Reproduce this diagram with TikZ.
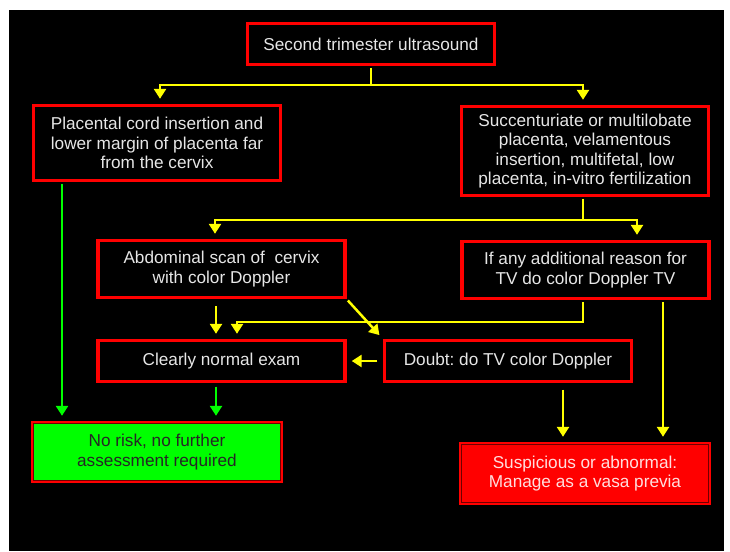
\documentclass[tikz,border=0pt]{standalone}
\usepackage{fontspec}
\setmainfont{Liberation Sans}
\usepackage{xcolor}
\usepackage{tikz}
\usetikzlibrary{arrows.meta, calc}
\definecolor{boxred}{RGB}{255,0,0}
\definecolor{flowyellow}{RGB}{255,255,0}
\definecolor{flowgreen}{RGB}{0,255,0}
\definecolor{textgray}{RGB}{230,230,230}
\definecolor{textpink}{RGB}{255,222,222}
\definecolor{edgedark}{RGB}{110,0,0}
\frenchspacing

\begin{document}
\begin{tikzpicture}[
    x=1pt, y=-1pt,
    box/.style={rectangle, draw=boxred, line width=3.4pt, fill=black, text=textgray, minimum width=247pt, inner sep=0pt, align=center, font=\fontsize{17.2}{19.6}\selectfont},
    safebox/.style={box, fill=flowgreen, text=black!85},
    alertbox/.style={box, fill=boxred, text=textpink},
    inset/.style={draw=edgedark, line width=1.3pt},
    arrow/.style={-{Triangle[length=10pt,width=12pt]}, line width=2.5pt, shorten >=5pt},
    yarrow/.style={arrow, flowyellow},
    garrow/.style={arrow, flowgreen},
    yline/.style={flowyellow, line width=2.5pt},
]

\useasboundingbox (0,0) rectangle (730,551);
\fill[black] (9,10) rectangle (724,551);

% Start
\node[box, minimum height=41pt] (scan) at (371,44) {Second trimester ultrasound};

% Two branches
\node[box, minimum height=75pt] (far) at (157,143) {Placental cord insertion and\\lower margin of placenta far\\from the cervix};
\node[box, minimum height=89pt] (risk) at (585,151) {Succenturiate or multilobate\\placenta, velamentous\\insertion, multifetal, low\\placenta, in-vitro fertilization};

% Screening steps
\node[box, minimum height=57pt] (abdo) at (221.5,269) {Abdominal scan of\ \ cervix\\with color Doppler};
\node[box, minimum height=57pt] (extra) at (585.5,270) {If any additional reason for\\TV do color Doppler TV};
\node[box, minimum height=41pt] (normal) at (221.5,361) {Clearly normal exam};
\node[box, minimum height=41pt] (doubt) at (508,361) {Doubt: do TV color Doppler};

% Outcomes - double border
\node[safebox, minimum width=249pt, minimum height=59pt] (norisk) at (157,452) {No risk, no further\\assessment required};
\node[alertbox, minimum width=249pt, minimum height=60pt] (previa) at (585,473.5) {Suspicious or abnormal:\\Manage as a vasa previa};
\foreach \n in {norisk, previa}
  \draw[inset] ([shift={(2.8,2.8)}]\n.north west) rectangle ([shift={(-2.8,-2.8)}]\n.south east);

% First split
\coordinate (split1) at (371,85);
\draw[yline, shorten <=1.7pt] (scan.south) -- (split1);
\draw[yarrow] (split1) -| ([xshift=3]far.north);
\draw[yarrow] (split1) -| ([xshift=-2]risk.north);

% Second split
\coordinate (split2) at (583,220);
\draw[yline, shorten <=1.7pt] ([xshift=-2]risk.south) -- (split2);
\draw[yarrow] (split2) -| ([xshift=-6.5]abdo.north);
\draw[yarrow] (split2) -| ([xshift=51.5]extra.north);

% Towards normal / doubt
\coordinate (merge) at (237,322);
\draw[yarrow, shorten <=7pt] ([xshift=-5.5]abdo.south) -- ([xshift=-5.5]normal.north);
\draw[yarrow, shorten <=1.7pt] ([xshift=-2.5]extra.south) |- (merge) -- ([xshift=15.5]normal.north);
\draw[yarrow, shorten <=1.7pt] (abdo.south east) -- (doubt.north west);
\draw[yarrow, shorten <=5.5pt] (doubt.west) -- (normal.east);

% Towards vasa previa
\draw[yarrow, shorten <=6.5pt] ([xshift=55]doubt.south) -- ([xshift=-22]previa.north);
\draw[yarrow, shorten <=1.7pt] ([xshift=77.5]extra.south) -- ([xshift=78]previa.north);

% Towards no risk
\draw[garrow, shorten <=1.7pt] ([xshift=-95]far.south) -- ([xshift=-95]norisk.north);
\draw[garrow, shorten <=3.5pt] ([xshift=-5.5]normal.south) -- ([xshift=59]norisk.north);

\end{tikzpicture}
\end{document}
